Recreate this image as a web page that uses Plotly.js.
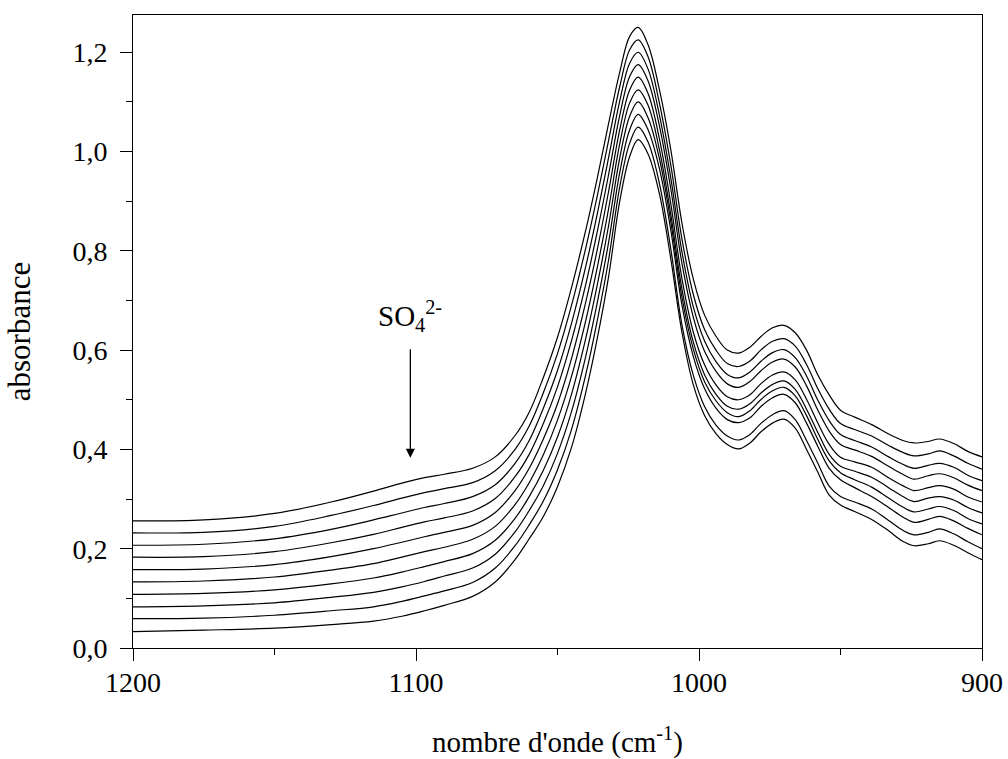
<!DOCTYPE html>
<html>
<head>
<meta charset="utf-8">
<script src="https://cdn.plot.ly/plotly-3.0.1.min.js"></script>
<style>html,body{margin:0;padding:0;background:#fff;}#chart{width:1008px;height:759px;}</style>
</head>
<body>
<div id="chart"></div>
<script>
const wavenumber = [1200, 1175, 1150, 1130, 1115, 1105, 1097, 1090, 1080, 1072, 1065, 1060, 1055, 1050, 1045, 1040, 1036, 1032, 1028, 1024.5, 1021.5, 1018, 1014, 1010, 1006, 1002, 998, 994, 990, 986, 982, 978, 974, 970, 966, 962, 958, 954, 950, 945, 939, 933, 928, 924, 919, 915, 910, 905, 900];

const abs1 = [.256, .258, .271, .294, .316, .332, .343, .350, .362, .385, .428, .475, .545, .626, .727, .842, .945, 1.055, 1.160, 1.232, 1.250, 1.215, 1.125, 1.005, .855, .743, .670, .628, .600, .594, .606, .628, .645, .650, .635, .600, .550, .510, .479, .465, .450, .431, .418, .413, .416, .421, .412, .396, .385];
const abs2 = [.232, .233, .245, .267, .287, .302, .313, .321, .333, .357, .400, .447, .514, .593, .691, .806, .909, 1.021, 1.131, 1.205, 1.225, 1.191, 1.098, .974, .823, .712, .641, .600, .573, .567, .578, .601, .618, .623, .608, .571, .522, .481, .452, .440, .427, .408, .394, .387, .391, .397, .387, .372, .360];
const abs3 = [.207, .209, .220, .239, .258, .272, .283, .291, .305, .329, .372, .418, .483, .559, .655, .769, .873, .986, 1.102, 1.178, 1.200, 1.166, 1.074, .948, .797, .687, .618, .577, .551, .544, .556, .578, .595, .601, .585, .548, .499, .458, .430, .418, .405, .385, .370, .362, .368, .372, .364, .348, .337];
const abs4 = [.183, .184, .194, .212, .229, .243, .254, .262, .276, .301, .345, .390, .452, .526, .620, .733, .837, .952, 1.073, 1.151, 1.175, 1.142, 1.052, .926, .774, .666, .597, .557, .532, .525, .537, .559, .576, .582, .566, .528, .479, .437, .410, .399, .386, .366, .350, .340, .347, .351, .343, .328, .317];
const abs5 = [.158, .159, .168, .184, .200, .213, .224, .233, .247, .273, .317, .362, .421, .492, .584, .697, .801, .918, 1.044, 1.124, 1.150, 1.117, 1.026, .896, .743, .636, .570, .530, .506, .500, .510, .533, .550, .556, .540, .501, .453, .410, .384, .375, .364, .343, .327, .317, .323, .327, .320, .304, .294];
const abs6 = [.133, .135, .143, .157, .170, .183, .194, .203, .219, .245, .289, .333, .389, .459, .548, .660, .765, .883, 1.016, 1.098, 1.124, 1.093, 1.004, .875, .722, .616, .550, .511, .487, .481, .492, .514, .531, .538, .521, .481, .434, .390, .366, .356, .344, .323, .305, .295, .302, .305, .298, .283, .272];
const abs7 = [.108, .110, .117, .129, .141, .153, .164, .174, .190, .217, .261, .305, .358, .425, .512, .624, .730, .849, .987, 1.071, 1.100, 1.068, .986, .860, .706, .602, .536, .498, .474, .466, .478, .501, .518, .525, .508, .468, .420, .377, .353, .339, .324, .302, .284, .274, .280, .285, .277, .261, .250];
const abs8 = [.083, .085, .091, .102, .112, .123, .134, .145, .161, .189, .234, .277, .327, .392, .477, .588, .694, .815, .958, 1.044, 1.075, 1.044, .966, .843, .690, .587, .522, .483, .460, .454, .464, .487, .504, .511, .494, .453, .406, .362, .339, .323, .305, .283, .264, .253, .259, .265, .256, .241, .228];
const abs9 = [.059, .060, .066, .075, .083, .094, .105, .115, .132, .161, .206, .248, .296, .359, .441, .551, .658, .780, .929, 1.017, 1.049, 1.019, .936, .805, .650, .549, .486, .449, .427, .419, .430, .453, .470, .478, .460, .418, .372, .326, .305, .294, .280, .257, .237, .228, .233, .240, .230, .214, .200];
const abs10 = [.033, .036, .040, .047, .054, .064, .075, .086, .104, .133, .178, .220, .265, .325, .405, .515, .622, .746, .900, .990, 1.024, .995, .915, .785, .635, .530, .468, .432, .410, .401, .413, .436, .453, .461, .443, .400, .354, .308, .288, .275, .259, .236, .215, .206, .210, .216, .207, .192, .178];

const xTicks = [1200, 1100, 1000, 900];
const yTicks = [0, 0.2, 0.4, 0.6, 0.8, 1.0, 1.2];
const arrowAt = {x: 1102, yTip: 0.383, yTail: 0.605, yLabel: 0.625};

const series = [abs1, abs2, abs3, abs4, abs5, abs6, abs7, abs8, abs9, abs10];
const FONT = 'Liberation Serif, Times New Roman, serif';

const traces = series.map(y => ({
  x: wavenumber, y: y, type: 'scatter', mode: 'lines',
  line: {color: '#000', width: 1.2, shape: 'spline', smoothing: 1.0},
  hoverinfo: 'skip', showlegend: false
}));

const layout = {
  width: 1008, height: 759,
  margin: {l: 133, r: 26, t: 15, b: 111},
  paper_bgcolor: '#fff', plot_bgcolor: '#fff',
  separators: ', ',
  font: {family: FONT, color: '#000', size: 28},
  showlegend: false,
  xaxis: {
    range: [1200, 900], tickvals: xTicks, tickformat: 'd',
    ticks: 'outside', ticklen: 12, tickwidth: 1, tickcolor: '#000',
    minor: {dtick: 50, tick0: 900, ticks: 'outside', ticklen: 6, tickwidth: 1, tickcolor: '#000'},
    showline: true, linecolor: '#000', linewidth: 1, mirror: true,
    showgrid: false, zeroline: false,
    ticklabelstandoff: -3,
    tickfont: {family: FONT, size: 28, color: '#000'},
    title: {text: "nombre d'onde (cm<sup>-1</sup>)", font: {family: FONT, size: 29, color: '#000'}, standoff: 38}
  },
  yaxis: {
    range: [0, 1.275], tickvals: yTicks, tickformat: '.1f',
    ticks: 'outside', ticklen: 12, tickwidth: 1, tickcolor: '#000',
    minor: {dtick: 0.1, tick0: 0, ticks: 'outside', ticklen: 6, tickwidth: 1, tickcolor: '#000'},
    showline: true, linecolor: '#000', linewidth: 1, mirror: true,
    showgrid: false, zeroline: false,
    ticklabelstandoff: 7,
    tickfont: {family: FONT, size: 28, color: '#000'},
    title: {text: 'absorbance', font: {family: FONT, size: 31, color: '#000'}, standoff: 32}
  },
  annotations: [
    {x: arrowAt.x, y: arrowAt.yTip, ax: arrowAt.x, ay: arrowAt.yTail, axref: 'x', ayref: 'y',
     xref: 'x', yref: 'y', text: '', showarrow: true, arrowhead: 2, arrowsize: 1.4, arrowwidth: 1.3, arrowcolor: '#000'},
    {x: arrowAt.x, y: arrowAt.yLabel, xref: 'x', yref: 'y', xanchor: 'center', yanchor: 'bottom',
     text: 'SO<sub>4</sub><sup>2-</sup>', showarrow: false, font: {family: FONT, size: 29, color: '#000'}}
  ]
};

Plotly.newPlot('chart', traces, layout, {displayModeBar: false, staticPlot: true});
</script>
</body>
</html>
